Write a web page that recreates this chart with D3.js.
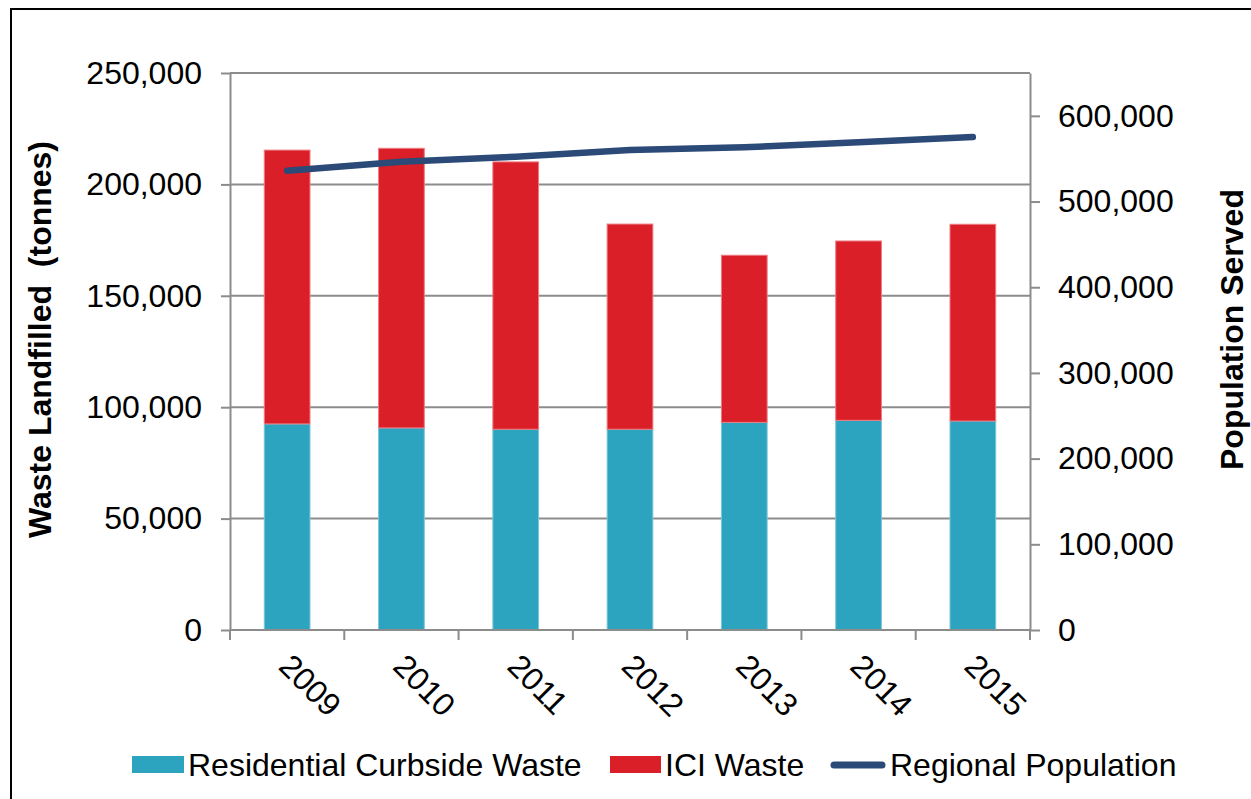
<!DOCTYPE html>
<html>
<head>
<meta charset="utf-8">
<script src="https://cdn.jsdelivr.net/npm/d3@7"></script>
<style>
  body { margin: 0; background: #fff; }
  svg { display: block; font-family: "Liberation Sans", Arial, sans-serif; }
  .axis path, .axis line { stroke: #8c8c8c; stroke-width: 2; }
  .axis text { font-size: 32px; fill: #000; }
</style>
</head>
<body>
<div id="chart"></div>
<script>
var years = ['2009', '2010', '2011', '2012', '2013', '2014', '2015'],
    residential = [92500, 90700, 90100, 90100, 93200, 94100, 93800],
    ici = [122900, 125500, 120000, 92100, 75000, 80500, 88300],
    population = [536000, 546500, 552300, 560100, 563300, 569100, 575200],
    leftTicks = [0, 50000, 100000, 150000, 200000, 250000],
    rightTicks = [0, 100000, 200000, 300000, 400000, 500000, 600000];

var width = 1251,
    height = 799,
    margin = {top: 73, right: 221, bottom: 169, left: 230};

var svg = d3.select('div#chart').append('svg')
    .attr('width', width)
    .attr('height', height);

// outer frame, cut off at right and bottom like the original
svg.append('rect')
    .attr('x', 11).attr('y', 9)
    .attr('width', width + 20).attr('height', height + 20)
    .attr('fill', 'none').attr('stroke', '#000').attr('stroke-width', 2);

var x = d3.scaleBand()
    .domain(years)
    .range([margin.left, width - margin.right])
    .paddingInner(0.6)
    .paddingOuter(0.3);

var yLeft = d3.scaleLinear()
    .domain([0, 250000])
    .range([height - margin.bottom, margin.top]);

var yRight = d3.scaleLinear()
    .domain([0, 650000])
    .range([height - margin.bottom, margin.top]);

var fmt = d3.format(',');

// gridlines
svg.append('g').selectAll('line')
    .data(leftTicks.filter(function (d) { return d > 0; }))
    .enter().append('line')
    .attr('x1', margin.left).attr('x2', width - margin.right)
    .attr('y1', function (d) { return yLeft(d); })
    .attr('y2', function (d) { return yLeft(d); })
    .attr('stroke', '#8c8c8c').attr('stroke-width', 2);

// stacked bars
var rows = years.map(function (y, i) {
    return {year: y, residential: residential[i], ici: ici[i]};
});
var stack = d3.stack().keys(['residential', 'ici'])(rows);
var colors = {residential: '#2ca3bf', ici: '#da1f28'};
var edges = {residential: '#7cc6d9', ici: '#ee7c82'};

svg.append('g').selectAll('g')
    .data(stack)
    .enter().append('g')
    .attr('fill', function (s) { return colors[s.key]; })
    .attr('stroke', function (s) { return edges[s.key]; })
    .attr('stroke-width', 1)
    .selectAll('rect')
    .data(function (s) { return s; })
    .enter().append('rect')
    .attr('x', function (d) { return x(d.data.year); })
    .attr('width', x.bandwidth())
    .attr('y', function (d) { return yLeft(d[1]); })
    .attr('height', function (d) { return yLeft(d[0]) - yLeft(d[1]); });

// axes
var leftAxis = svg.append('g').attr('class', 'axis')
    .attr('transform', 'translate(' + margin.left + ',0)')
    .call(d3.axisLeft(yLeft).tickValues(leftTicks).tickFormat(fmt)
        .tickSize(9).tickSizeOuter(0).tickPadding(19));

var rightAxis = svg.append('g').attr('class', 'axis')
    .attr('transform', 'translate(' + (width - margin.right) + ',0)')
    .call(d3.axisRight(yRight).tickValues(rightTicks).tickFormat(fmt)
        .tickSize(10).tickSizeOuter(0).tickPadding(18));

// x axis: line with ticks at category boundaries
var xAxis = svg.append('g').attr('class', 'axis');
xAxis.append('line')
    .attr('x1', margin.left).attr('x2', width - margin.right)
    .attr('y1', yLeft(0)).attr('y2', yLeft(0));
xAxis.selectAll('line.tick')
    .data(d3.range(years.length + 1))
    .enter().append('line').attr('class', 'tick')
    .attr('x1', function (i) { return x.range()[0] + i * x.step(); })
    .attr('x2', function (i) { return x.range()[0] + i * x.step(); })
    .attr('y1', yLeft(0)).attr('y2', yLeft(0) + 10);

xAxis.selectAll('text')
    .data(years)
    .enter().append('text')
    .attr('transform', function (d) {
        return 'translate(' + (x(d) + x.bandwidth() / 2 - 10) + ',' + (yLeft(0) + 38) + ') rotate(45)';
    })
    .text(function (d) { return d; });

// population line
var line = d3.line()
    .x(function (d, i) { return x(years[i]) + x.bandwidth() / 2; })
    .y(function (d) { return yRight(d); });

svg.append('path')
    .datum(population)
    .attr('d', line)
    .attr('fill', 'none')
    .attr('stroke', '#2c4a78')
    .attr('stroke-width', 6.5)
    .attr('stroke-linecap', 'round')
    .attr('stroke-linejoin', 'round');

// axis titles
svg.append('text')
    .attr('transform', 'translate(51,' + ((yLeft(0) + yLeft(250000)) / 2 - 12) + ') rotate(-90)')
    .attr('text-anchor', 'middle')
    .attr('font-size', '32px').attr('font-weight', 'bold')
    .style('white-space', 'pre')
    .text('Waste Landfilled  (tonnes)');

svg.append('text')
    .attr('transform', 'translate(1243,' + ((yLeft(0) + yLeft(250000)) / 2 - 22) + ') rotate(-90)')
    .attr('text-anchor', 'middle')
    .attr('font-size', '32px').attr('font-weight', 'bold')
    .text('Population Served');

// legend
var legend = svg.append('g').attr('font-size', '32px');
legend.append('rect').attr('x', 132).attr('y', 756).attr('width', 52).attr('height', 17).attr('fill', colors.residential);
legend.append('text').attr('x', 188).attr('y', 776).text('Residential Curbside Waste');
legend.append('rect').attr('x', 610).attr('y', 756).attr('width', 51).attr('height', 17).attr('fill', colors.ici);
legend.append('text').attr('x', 665).attr('y', 776).text('ICI Waste');
legend.append('line').attr('x1', 834).attr('x2', 882).attr('y1', 765).attr('y2', 765)
    .attr('stroke', '#2c4a78').attr('stroke-width', 7).attr('stroke-linecap', 'round');
legend.append('text').attr('x', 890).attr('y', 776).text('Regional Population');
</script>
</body>
</html>
